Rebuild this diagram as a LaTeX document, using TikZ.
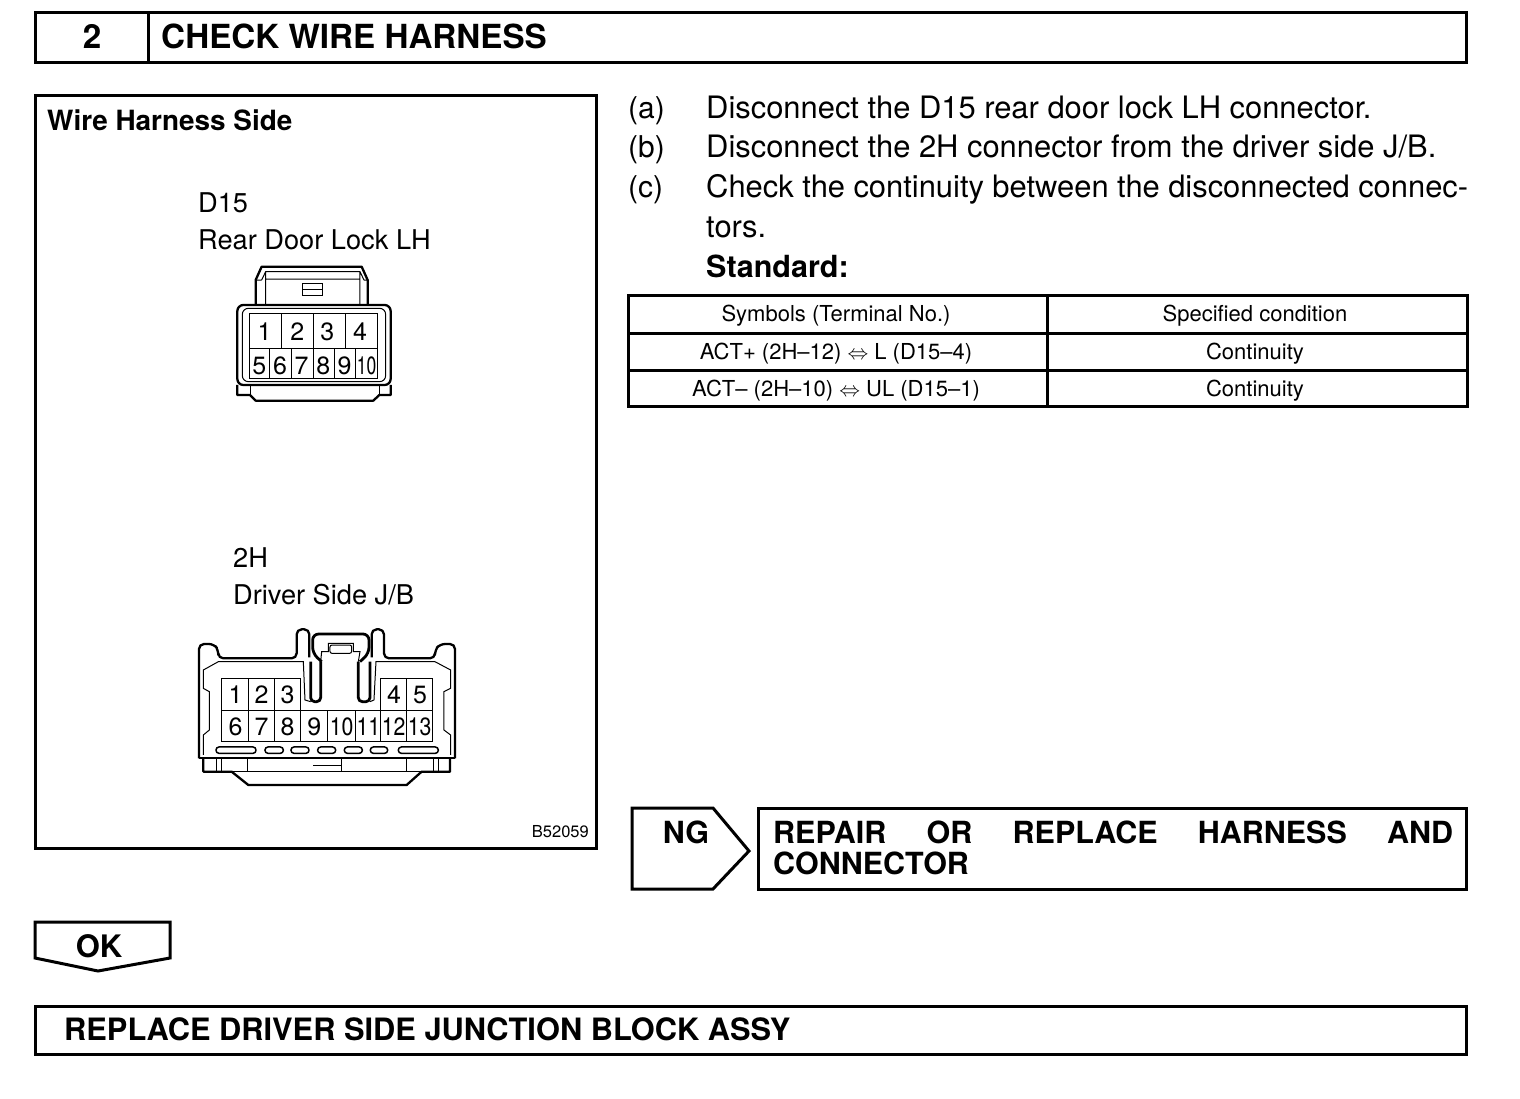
\documentclass[tikz,border=0pt]{standalone}
\usepackage{fontspec}
\setmainfont{TeX Gyre Heros}
\newcommand{\fs}[1]{\fontsize{#1}{#1}\selectfont}

\tikzset{
frame/.style = {draw, line width=3pt, line join=miter},
txt/.style = {anchor=base west, inner sep=0pt, font=\fs{30.9}},
head/.style = {txt, font=\fs{33.2}\bfseries},
big/.style = {txt, font=\fs{30.5}\bfseries},
lab/.style = {txt, font=\fs{27.2}},
cell/.style = {txt, anchor=base, font=\fs{22}},
pin/.style = {anchor=base, inner sep=0pt, font=\fs{25}},
thin/.style = {line width=1pt},
shell/.style = {line width=2.3pt, line join=round}
}

\begin{document}
\begin{tikzpicture}[x=1pt, y=-1pt]
\useasboundingbox (0,0) rectangle (1520,1098);

\draw [frame] (35,12) rectangle (1466,62);
\draw [frame] (148,12) -- (148,62);
\node (stepno) [head, anchor=base] at (92,48) {2};
\node (title) [head] at (161,48) {CHECK WIRE HARNESS};

\draw [frame] (35,95) rectangle (596,848);
\node (side) [lab, font=\fs{27.9}\bfseries] at (47,130) {Wire Harness Side};
\node (dname) [lab] at (198,212) {D15};
\node (dtext) [lab] at (198,249) {Rear Door Lock LH};
\node (hname) [lab] at (233,567) {2H};
\node (htext) [lab] at (233,604) {Driver Side J/B};
\node (code) [txt, anchor=base east, font=\fs{16.5}] at (589,837) {B52059};

\begin{scope}[shift={(220,255)}, x=0.3333pt, y=-0.3333pt]
\draw [shell] (107,150) -- (107,75) -- (125,35) -- (425,35) -- (443,75) -- (443,150);
\draw [thin] (125,75) -- (137,50) -- (420,50) -- (432,75) (107,75) -- (125,75) (432,75) -- (443,75)
	(137,50) -- (137,150) (420,50) -- (420,150) (137,72) -- (420,72);
\draw [thin] (248,85) rectangle (308,120) (248,102) -- (308,102);
\draw [shell, rounded corners=6pt] (52,150) rectangle (512,390);
\draw [thin, rounded corners=6pt] (67,160) rectangle (497,380);
\draw [shell] (52,390) -- (52,420) -- (90,420) -- (107,437) -- (460,437) -- (478,420) -- (512,420) -- (512,390);
\draw [thin] (90,390) -- (90,420) (478,390) -- (478,420);
\draw [line width=1.6pt] (88,175) rectangle (472,370);
\draw [thin] (88,282) -- (472,282);
\foreach \x in {185,280,377} \draw [thin] (\x,175) -- (\x,282);
\foreach \x in {150,215,280,343,407} \draw [thin] (\x,282) -- (\x,370);
\foreach \n/\x in {1/134,2/232,3/322,4/420}
	\node (d\n) [pin] at (\x,258) {\n};
\foreach \n/\x in {5/118,6/180,7/245,8/310,9/374}
	\node (d\n) [pin] at (\x,360) {\n};
\node (d10) [pin] at (440,360) {\scalebox{.7}[1]{10}};
\end{scope}

\begin{scope}[shift={(190,620)}, x=0.3333pt, y=-0.3333pt]
\draw [shell, rounded corners=5pt] (27,415) -- (27,72) -- (72,72) -- (85,90) -- (85,115) -- (320,115) -- (320,28) -- (358,28) -- (358,112);
\draw [shell, rounded corners=5pt] (795,415) -- (795,72) -- (750,72) -- (735,90) -- (735,115) -- (582,115) -- (582,28) -- (545,28) -- (545,112);
\draw [shell] (27,415) -- (795,415);
\draw [shell, line width=2.8pt, rounded corners=4pt] (362,125) -- (362,245) -- (392,245) -- (392,125) (540,125) -- (540,245) -- (505,245) -- (505,125);
\draw [shell, line width=2.8pt, rounded corners=6pt] (395,125) -- (368,100) -- (368,42) -- (537,42) -- (537,100) -- (510,125);
\draw [thin] (392,125) -- (395,95) -- (415,95) -- (415,70) -- (490,70) -- (490,95) -- (510,95) -- (505,125);
\draw [thin, rounded corners=2pt] (420,75) rectangle (485,100);
\draw [thin] (40,405) -- (40,345) -- (58,330) -- (58,215) -- (40,205) -- (40,150) -- (85,125) -- (340,125) -- (345,240) -- (362,245);
\draw [thin] (782,405) -- (782,345) -- (762,330) -- (762,215) -- (782,205) -- (782,150) -- (735,125) -- (558,125) -- (552,240) -- (540,245);
\draw [shell] (40,415) -- (40,455) -- (125,455) -- (175,495) -- (650,495) -- (695,455) -- (780,455) -- (780,415);
\foreach \x in {80,95,172,455,650,730,745} \draw [thin] (\x,415) -- (\x,455);
\draw [thin] (370,437) -- (455,437) (125,455) -- (695,455);
\draw [line width=1.4pt] (95,175) -- (95,365) -- (727,365) -- (727,175) -- (572,175) -- (572,272) (95,175) -- (332,175) -- (332,272);
\draw [thin] (95,272) -- (727,272);
\foreach \x in {175,253,650} \draw [thin] (\x,175) -- (\x,365);
\foreach \x in {332,413,497,572} \draw [thin] (\x,272) -- (\x,365);
\foreach \a/\b in {78/198,225/280,303/357,383/437,463/517,541/593,625/745}
	\draw [line width=1.5pt, rounded corners=3pt] (\a,381) rectangle (\b,400);
\foreach \n/\x in {1/137,2/215,3/293,4/612,5/690}
	\node (h\n) [pin] at (\x,250) {\n};
\foreach \n/\x in {6/137,7/215,8/293,9/373}
	\node (h\n) [pin] at (\x,346) {\n};
\foreach \n/\x in {10/455,11/535,12/611,13/689}
	\node (h\n) [pin] at (\x,346) {\scalebox{.85}[1]{\n}};
\end{scope}

\foreach \n/\y in {a/118,b/157,c/197}
	\node (mark\n) [txt, font=\fs{30}] at (628,\y) {(\n)};
\node (stepa) [txt] at (706,118) {Disconnect the D15 rear door lock LH connector.};
\node (stepb) [txt] at (706,157) {Disconnect the 2H connector from the driver side J/B.};
\node (stepc) [txt, text width=762pt] at (706,197) {Check\hfill the\hfill continuity\hfill between\hfill the\hfill disconnected\hfill connec-};
\node (stepd) [txt] at (706,237) {tors.};
\node (std) [txt, font=\fs{30.5}\bfseries] at (706,277) {Standard:};

\draw [frame] (628,295) rectangle (1467,406);
\draw [frame] (628,333) -- (1467,333) (628,370) -- (1467,370) (1047,295) -- (1047,406);
\node (tha) [cell] at (836,321) {Symbols (Terminal No.)};
\node (thb) [cell] at (1255,321) {Specified condition};
\node (ra) [cell] at (836,359) {ACT+ (2H--12) $\Leftrightarrow$ L (D15--4)};
\node (rb) [cell] at (836,396) {ACT-- (2H--10) $\Leftrightarrow$ UL (D15--1)};
\node (ca) [cell] at (1255,359) {Continuity};
\node (cb) [cell] at (1255,396) {Continuity};

\draw [frame] (632,808) -- (713,808) -- (749,851) -- (713,889) -- (632,889) -- cycle;
\node (ng) [big, anchor=base] at (686,843) {NG};
\draw [frame] (758,808) rectangle (1466,889);
\node (fixa) [big, text width=680pt] at (773,843) {REPAIR\hfill OR\hfill REPLACE\hfill HARNESS\hfill AND};
\node (fixb) [big] at (773,874) {CONNECTOR};

\draw [frame] (35,922) -- (170,922) -- (170,958) -- (98,971) -- (35,958) -- cycle;
\node (ok) [head, anchor=base, font=\fs{31}\bfseries] at (99,957) {OK};
\draw [frame] (35,1006) rectangle (1466,1054);
\node (last) [big, font=\fs{30.8}\bfseries] at (64,1040) {REPLACE DRIVER SIDE JUNCTION BLOCK ASSY};
\end{tikzpicture}
\end{document}
